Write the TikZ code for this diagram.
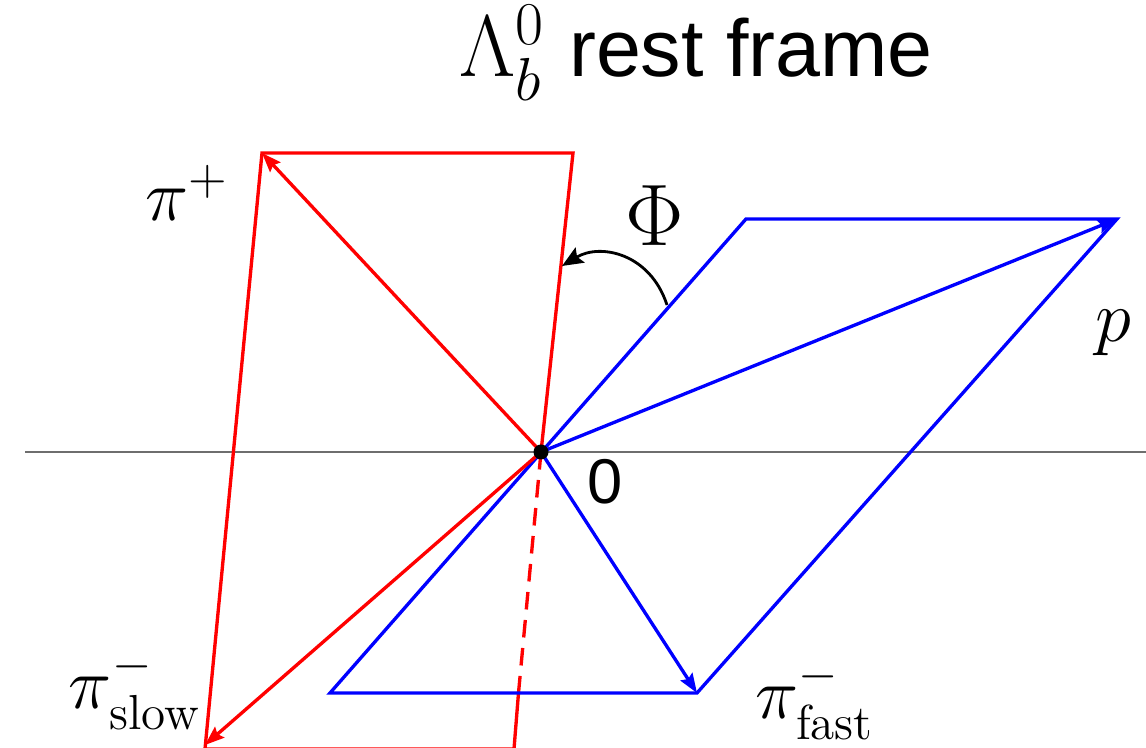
\documentclass[tikz,border=0pt]{standalone}
\usepackage{amsmath}
\usepackage{fontspec}
\newfontfamily\helv{Liberation Sans}
\definecolor{phred}{RGB}{255,0,0}
\definecolor{phblue}{RGB}{0,0,255}
\definecolor{phgray}{RGB}{110,110,110}
\usetikzlibrary{arrows.meta,positioning,calc}

\begin{document}
\begin{tikzpicture}[
  plane/.style={line width=0.95pt, line join=miter},
  momentum/.style={line width=0.95pt, -{Stealth[length=5.5pt, width=4pt, inset=0.8pt]}},
  lbl/.style={font=\fontsize{20}{24}\selectfont, inner sep=0pt}
]
  \useasboundingbox (0,0) rectangle (11.46,7.48);

  % Points
  \coordinate (O) at (5.41,2.96);
  \coordinate (pip) at (2.62,5.95);
  \coordinate (rtop) at (5.73,5.95);
  \coordinate (rbot) at (5.14,-0.01);
  \coordinate (slow) at (2.05,-0.01);
  \coordinate (slowtip) at (2.05,0.03);
  \coordinate (rcut) at (5.185,0.55);
  \coordinate (prot) at (11.17,5.29);
  \coordinate (btop) at (7.46,5.29);
  \coordinate (fast) at (6.97,0.55);
  \coordinate (bbot) at (3.30,0.55);
  \coordinate (axl) at (0.25,2.96);
  \coordinate (axr) at (11.46,2.96);

  % Axis
  \draw[phgray, line width=0.6pt] (axl) -- (axr);

  % Red plane
  \draw[plane, phred] (rcut) -- (rbot) -- (slow) -- (pip) -- (rtop) -- (O);
  \draw[plane, phred, dashed, dash pattern=on 5pt off 3pt] (O) -- (rcut);

  % Blue plane
  \draw[plane, phblue] (bbot) -- (btop) -- (prot) -- (fast) -- cycle;

  % Momenta
  \draw[momentum, phred] (O) -- (pip);
  \draw[momentum, phred] (O) -- (slowtip);
  \draw[momentum, phblue] (O) -- (prot);
  \draw[momentum, phblue] (O) -- (fast);

  \fill (O) circle (0.075);

  % Angle between planes
  \coordinate (phis) at (6.67,4.43);
  \coordinate (phie) at (5.62,4.82);
  \draw[line width=0.8pt, -{Stealth[length=6pt, width=5pt, inset=1pt]}] (phis) .. controls (6.50,4.95) and (6.00,5.05) .. (phie);

  % Labels
  \node[font=\fontsize{23}{27}\selectfont] (title) at (6.96,6.95) {$\Lambda_b^0$ {\helv rest frame}};
  \node[lbl] (lpip) at (1.87,5.55) {$\pi^+$};
  \node[lbl] (lprot) at (11.13,4.15) {$p$};
  \node[lbl] (lslow) at (1.35,0.58) {$\pi^-_{\text{slow}}$};
  \node[lbl] (lfast) at (8.15,0.48) {$\pi^-_{\text{fast}}$};
  \node[lbl, font=\fontsize{28}{32}\selectfont] (lphi) at (6.55,5.32) {$\Phi$};
  \node[font=\helv\fontsize{18}{21}\selectfont, inner sep=0pt] (lzero) at (6.05,2.66) {0};
\end{tikzpicture}
\end{document}
